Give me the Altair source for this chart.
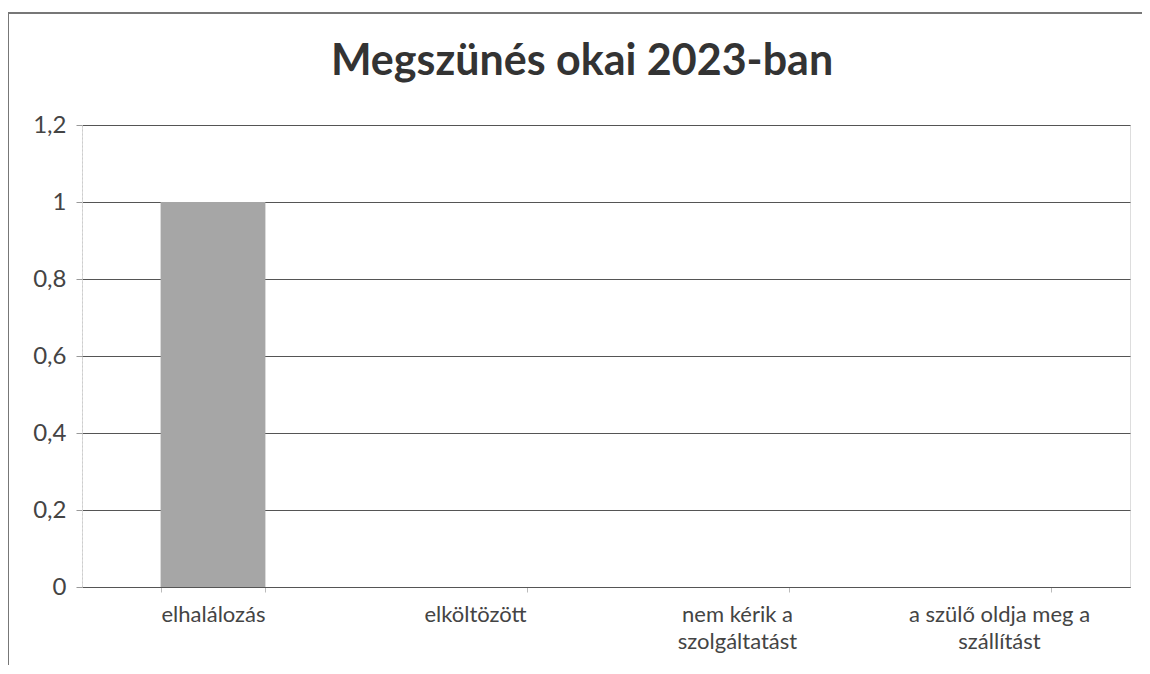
import altair as alt
import pandas as pd

categories = ["elhalálozás", "elköltözött", "nem kérik a\nszolgáltatást", "a szülő oldja meg a\nszállítást"]
values = [1, 0, 0, 0]
title_text = "Megszünés okai 2023-ban"

df = pd.DataFrame({"ok": categories, "db": values})

FONT = "Lato"

bars = alt.Chart(df).mark_bar(color="#a6a6a6").encode(
    x=alt.X("ok:N", sort=categories, title=None,
            scale=alt.Scale(paddingInner=0.6, paddingOuter=0.3),
            axis=alt.Axis(labelAngle=0, tickBand="extent", ticks=True, tickSize=5,
                          tickColor="#bbbbbb", domainColor="#555555", grid=False,
                          labelFont=FONT, labelFontSize=22, labelColor="#444444",
                          labelPadding=12, labelLimit=300, labelLineHeight=27,
                          labelExpr="split(datum.label, '\\n')")),
    y=alt.Y("db:Q", title=None,
            scale=alt.Scale(domain=[0, 1.2]),
            axis=alt.Axis(values=[0, 0.2, 0.4, 0.6, 0.8, 1.0, 1.2], grid=True,
                          gridColor="#555555", gridWidth=1, domain=True,
                          domainColor="#cccccc", domainDash=[2, 2],
                          ticks=True, tickSize=6, tickColor="#999999",
                          labelFont=FONT, labelFontSize=24, labelColor="#444444",
                          labelPadding=10,
                          labelExpr="replace(format(datum.value, '.1~f'), '.', ',')")),
)

frame_top = alt.Chart(df).mark_rule(stroke="#777777", strokeWidth=1.5).encode(
    x=alt.value(-74), x2=alt.value(1100), y=alt.value(-112)
)
frame_left = alt.Chart(df).mark_rule(stroke="#777777", strokeWidth=1.5).encode(
    x=alt.value(-74), y=alt.value(-112), y2=alt.value(600)
)

title = alt.Chart(pd.DataFrame({"t": [title_text]})).mark_text(
    font=FONT, fontSize=43, fontWeight="bold", color="#333333",
    align="center", baseline="middle"
).encode(x=alt.value(500), y=alt.value(-63), text="t:N")

chart = alt.layer(frame_top, frame_left, bars, title).properties(
    width=1048, height=462,
    padding={"left": 74, "top": 117, "right": 12, "bottom": 78},
    autosize=alt.AutoSizeParams(type="none"),
).configure_view(stroke=None).configure(background="white")

chart.save("out.html", embed_options={"renderer": "svg", "actions": False})
